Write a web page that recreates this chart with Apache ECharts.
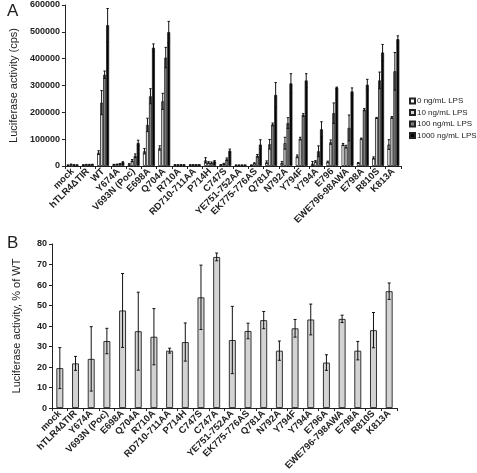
<!DOCTYPE html>
<html><head><meta charset="utf-8">
<script src="https://cdn.jsdelivr.net/npm/echarts@6/dist/echarts.min.js"></script>
<style>html,body{margin:0;padding:0;background:#fff}#c{width:477px;height:473px}</style>
</head><body><div id="c"></div>
<script>
// ---------- Panel A data ----------
const categoriesA = ['mock','hTLR4\u0394TIR','WT','Y674A','V693N (Poc)','E698A','Q704A','R710A','RD710-711AA','P714H','C747S','YE751-752AA','EK775-776AS','Q781A','N792A','Y794F','Y794A','E796','EWE796-98AWA','E798A','R810S','K813A'];
const seriesNamesA = ['0 ng/mL LPS','10 ng/mL LPS','100 ng/mL LPS','1000 ng/mL LPS'];
const lps0    = [3000, 4000, 50000, 5000, 6000, 55000, 67000, 4000, 4000, 21000, 4000, 3000, 3000, 14000, 12000, 36000, 9000, 15000, 80000, 11000, 30000, 80000];
const lps0Err = [1000, 1000, 7000, 1000, 3000, 10000, 8000, 1000, 1000, 10000, 1000, 1000, 1000, 5000, 5000, 5000, 8000, 3000, 4000, 2000, 4000, 18000];
const lps10    = [6000, 5000, 236000, 6000, 20000, 153000, 241000, 4000, 4000, 13000, 8000, 3000, 10000, 81000, 85000, 102000, 17000, 89000, 72000, 102000, 179000, 181000];
const lps10Err = [1000, 1000, 45000, 1000, 4000, 25000, 30000, 1000, 1000, 3000, 2000, 1000, 2000, 18000, 22000, 5000, 3000, 8000, 5000, 2000, 2000, 3000];
const lps100    = [4000, 5000, 340000, 8000, 38000, 260000, 404000, 4000, 4000, 12000, 25000, 3000, 38000, 155000, 160000, 190000, 55000, 197000, 142000, 210000, 319000, 353000];
const lps100Err = [1000, 1000, 14000, 1000, 7000, 28000, 38000, 1000, 1000, 3000, 5000, 1000, 5000, 5000, 20000, 5000, 20000, 38000, 48000, 4000, 31000, 70000];
const lps1000    = [3500, 5500, 525000, 14000, 86000, 441000, 499000, 4000, 4000, 17000, 57000, 3000, 80000, 265000, 308000, 319000, 137000, 292000, 278000, 303000, 423000, 473000];
const lps1000Err = [1000, 1000, 62000, 2000, 10000, 14000, 40000, 1000, 1000, 3000, 6000, 1000, 18000, 46000, 36000, 25000, 28000, 2000, 13000, 20000, 30000, 12000];

// ---------- Panel B data ----------
const categoriesB = ['mock','hTLR4\u0394TIR','Y674A','V693N (Poc)','E698A','Q704A','R710A','RD710-711AA','P714H','C747S','C747A','YE751-752AA','EK775-776AS','Q781A','N792A','Y794F','Y794A','E796A','EWE796-798AWA','E798A','R810S','K813A'];
const pctWT    = [19.5, 21.8, 24, 32.7, 47.6, 37.5, 34.8, 28, 32.2, 54, 73.7, 33.2, 37.6, 42.9, 28, 38.9, 43.2, 22.2, 43.5, 28, 38, 57];
const pctWTErr = [10, 3.4, 15.7, 6.2, 18, 19, 13.7, 1.2, 9.3, 15.7, 1.9, 16.4, 3.8, 4.2, 4.7, 4.3, 7.5, 3.8, 1.8, 4.5, 8.6, 4];

const yTicksA = {min: 0, max: 600000, interval: 100000};
const yTicksB = {min: 0, max: 80, interval: 10};

// ---------- Build chart ----------
const chart = echarts.init(document.getElementById('c'), null, {renderer: 'canvas'});
const FONT = 'Liberation Sans';
const valsA = [lps0, lps10, lps100, lps1000];
const errsA = [lps0Err, lps10Err, lps100Err, lps1000Err];
const fillsA = ['#ffffff', '#d4d4d4', '#808080', '#000000'];
const BW_A = 3;
const BW_B = 7;

function errRenderer(offsetPx, capHalf, color) {
  return function (params, api) {
    const x = api.value(0), v = api.value(1), e = api.value(2);
    const hi = api.coord([x, v + e]);
    const lo = api.coord([x, Math.max(v - e, 0)]);
    const cx = hi[0] + offsetPx;
    const st = {stroke: color, lineWidth: 1};
    return {type: 'group', children: [
      {type: 'line', shape: {x1: cx, y1: hi[1], x2: cx, y2: lo[1]}, style: st},
      {type: 'line', shape: {x1: cx - capHalf, y1: hi[1], x2: cx + capHalf, y2: hi[1]}, style: st},
      {type: 'line', shape: {x1: cx - capHalf, y1: lo[1], x2: cx + capHalf, y2: lo[1]}, style: st}
    ]};
  };
}

const series = [];
seriesNamesA.forEach((name, s) => {
  series.push({
    name: name, type: 'bar', xAxisIndex: 0, yAxisIndex: 0,
    data: valsA[s], barWidth: BW_A, barGap: '0%',
    itemStyle: {color: fillsA[s], borderColor: '#222', borderWidth: 0.8},
    emphasis: {disabled: true}, animation: false
  });
});
seriesNamesA.forEach((name, s) => {
  series.push({
    type: 'custom', xAxisIndex: 0, yAxisIndex: 0, z: 5,
    renderItem: errRenderer((s - 1.5) * BW_A, 1.2, '#111'),
    data: valsA[s].map((v, i) => [i, v, errsA[s][i]]),
    encode: {x: 0, y: 1}, animation: false, silent: true
  });
});
series.push({
  name: 'pct', type: 'bar', xAxisIndex: 1, yAxisIndex: 1,
  data: pctWT, barWidth: BW_B,
  itemStyle: {color: '#d3d3d3', borderColor: '#333', borderWidth: 1},
  emphasis: {disabled: true}, animation: false
});
series.push({
  type: 'custom', xAxisIndex: 1, yAxisIndex: 1, z: 5,
  renderItem: errRenderer(0, 1.5, '#111'),
  data: pctWT.map((v, i) => [i, v, pctWTErr[i]]),
  encode: {x: 0, y: 1}, animation: false, silent: true
});

const catLabel = {interval: 0, rotate: 45, fontSize: 9.5, fontWeight: 'bold', fontFamily: FONT, color: '#222', margin: 4};
const axisLineStyle = {lineStyle: {color: '#222', width: 1}};
const yLabel = {fontSize: 9, fontWeight: 'bold', color: '#222', fontFamily: FONT, margin: 5, formatter: v => String(v)};

chart.setOption({
  backgroundColor: '#fff',
  animation: false,
  textStyle: {fontFamily: FONT},
  title: [
    {text: 'A', left: 2, top: -2, textStyle: {fontSize: 17, fontWeight: 'normal', color: '#222', fontFamily: FONT}},
    {text: 'B', left: 2, top: 230, textStyle: {fontSize: 17, fontWeight: 'normal', color: '#222', fontFamily: FONT}}
  ],
  legend: {
    data: seriesNamesA, orient: 'vertical', left: 404, top: 92,
    itemWidth: 5, itemHeight: 5, itemGap: 3.5,
    textStyle: {fontSize: 8, color: '#222', fontFamily: FONT, padding: [0, 0, 0, -3]},
    icon: 'rect', selectedMode: false
  },
  grid: [
    {left: 55, right: 76, top: 5, height: 161},
    {left: 52, right: 80, top: 244, height: 169}
  ],
  xAxis: [
    {type: 'category', gridIndex: 0, data: categoriesA, axisLabel: catLabel, axisLine: axisLineStyle,
     axisTick: {show: true, length: 3, lineStyle: {color: '#222'}}},
    {type: 'category', gridIndex: 1, data: categoriesB, axisLabel: catLabel, axisLine: axisLineStyle,
     axisTick: {show: true, length: 3, lineStyle: {color: '#222'}}}
  ],
  yAxis: [
    {type: 'value', gridIndex: 0, min: yTicksA.min, max: yTicksA.max, interval: yTicksA.interval,
     name: 'Luciferase activity (cps)', nameLocation: 'middle', nameGap: 43, nameRotate: 90,
     nameTextStyle: {fontSize: 11, color: '#222', fontFamily: FONT},
     axisLine: {show: true, lineStyle: {color: '#222'}}, axisTick: {show: true, length: 3, lineStyle: {color: '#222'}},
     splitLine: {show: false}, axisLabel: yLabel},
    {type: 'value', gridIndex: 1, min: yTicksB.min, max: yTicksB.max, interval: yTicksB.interval,
     name: 'Luciferase activity, % of WT', nameLocation: 'middle', nameGap: 30, nameRotate: 90,
     nameTextStyle: {fontSize: 11, color: '#222', fontFamily: FONT},
     axisLine: {show: true, lineStyle: {color: '#222'}}, axisTick: {show: true, length: 3, lineStyle: {color: '#222'}},
     splitLine: {show: false}, axisLabel: yLabel}
  ],
  series: series
});
</script>
</body></html>
